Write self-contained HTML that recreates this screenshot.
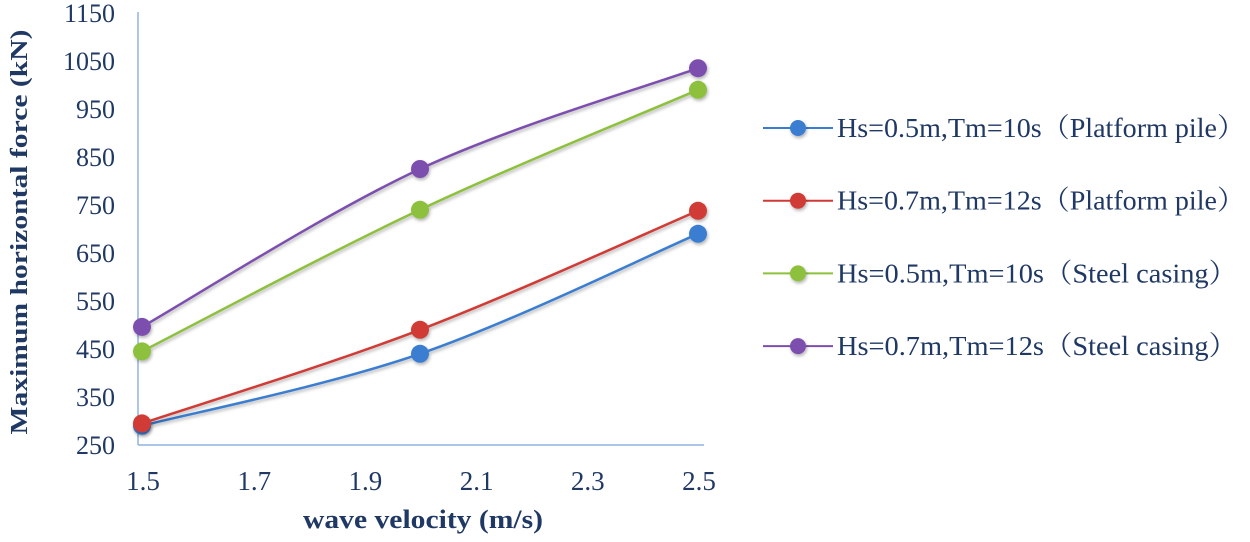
<!DOCTYPE html>
<html><head><meta charset="utf-8"><style>
body{margin:0;background:#fff;}
svg{display:block;}
text{font-family:"Liberation Serif","Noto Serif CJK SC",serif;fill:#1f3864;}
</style></head><body>
<svg id="chart" width="1250" height="542" viewBox="0 0 1250 542">
<defs><filter id="sh" x="-20%" y="-20%" width="140%" height="160%"><feDropShadow dx="1" dy="2" stdDeviation="1.5" flood-color="#000" flood-opacity="0.3"/></filter></defs>
<g id="axes"></g><g id="series"></g><g id="legend"></g>
</svg>
<script>
const categories=[1.5,2.0,2.5];
const xTicks=["1.5","1.7","1.9","2.1","2.3","2.5"];
const yTicks=[250,350,450,550,650,750,850,950,1050,1150];
const blueVals=[290,440,690];
const redVals=[295,490,738];
const greenVals=[445,740,990];
const purpleVals=[496,825,1035];
const seriesNames=["Hs=0.5m,Tm=10s（Platform pile）","Hs=0.7m,Tm=12s（Platform pile）","Hs=0.5m,Tm=10s（Steel casing）","Hs=0.7m,Tm=12s（Steel casing）"];
const colors=["#3a7dd0","#d03a36","#8dc03c","#7c4fae"];
const allSeries=[blueVals,redVals,greenVals,purpleVals];
const NS="http://www.w3.org/2000/svg";
const xs=v=>142+(v-1.5)*556;
const ys=v=>445-(v-250)*0.48;
function mk(tag,attrs,parent){const e=document.createElementNS(NS,tag);for(const k in attrs)e.setAttribute(k,attrs[k]);parent.appendChild(e);return e;}
const ax=document.getElementById('axes');
let l=mk('line',{x1:138,y1:12,x2:138,y2:445,stroke:'#8fb3e0','stroke-width':1.5},ax);


l=mk('line',{x1:138,y1:445,x2:704,y2:445,stroke:'#8fb3e0','stroke-width':1.5},ax);


yTicks.forEach(v=>{const t=mk('text',{x:115,y:ys(v)+9,'text-anchor':'end','font-size':26},ax);t.textContent=v;

});
xTicks.forEach(s=>{const t=mk('text',{x:xs(parseFloat(s))+1,y:490,'text-anchor':'middle','font-size':27},ax);t.textContent=s;

});
let t=mk('text',{x:423,y:528,'text-anchor':'middle','font-size':26,'font-weight':'bold',textLength:240,lengthAdjust:'spacingAndGlyphs'},ax);t.textContent='wave velocity (m/s)';


t=mk('text',{x:0,y:0,'text-anchor':'middle','font-size':24,'font-weight':'bold',textLength:405,lengthAdjust:'spacingAndGlyphs',transform:'translate(27,232) rotate(-90)'},ax);t.textContent='Maximum horizontal force (kN)';


const sg=document.getElementById('series');
function smooth(pts){let d=`M${pts[0][0]},${pts[0][1]}`;const k=0.17;
for(let i=0;i<pts.length-1;i++){const p0=pts[Math.max(i-1,0)],p1=pts[i],p2=pts[i+1],p3=pts[Math.min(i+2,pts.length-1)];
d+=` C${p1[0]+(p2[0]-p0[0])*k},${p1[1]+(p2[1]-p0[1])*k} ${p2[0]-(p3[0]-p1[0])*k},${p2[1]-(p3[1]-p1[1])*k} ${p2[0]},${p2[1]}`;}return d;}
allSeries.forEach((vals,si)=>{const g=mk('g',{filter:'url(#sh)'},sg);


const pts=vals.map((v,i)=>[xs(categories[i]),ys(v)]);
const p=mk('path',{d:smooth(pts),fill:'none',stroke:colors[si],'stroke-width':2.5},g);


pts.forEach(pt=>{const c=mk('circle',{cx:pt[0],cy:pt[1],r:9,fill:colors[si]},g);

});});
const lg=document.getElementById('legend');
seriesNames.forEach((n,i)=>{const y=128+i*72.7;const g=mk('g',{},lg);


mk('line',{x1:763,y1:y,x2:833,y2:y,stroke:colors[i],'stroke-width':2},g);
mk('circle',{cx:798,cy:y,r:8,fill:colors[i],filter:'url(#sh)'},g);
const tt=mk('text',{x:837,y:y+9,'font-size':27,textLength:(i<2?408:400),lengthAdjust:'spacingAndGlyphs'},g);tt.textContent=n;});
</script>
</body></html>
